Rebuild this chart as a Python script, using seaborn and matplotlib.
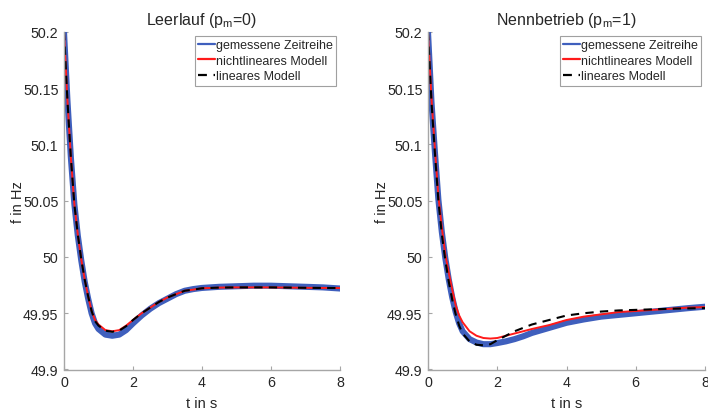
import numpy as np
import pandas as pd
import matplotlib
matplotlib.use("Agg")
import matplotlib.pyplot as plt
from matplotlib.ticker import FormatStrFormatter
import seaborn as sns

# Time axis (s) for the step response, and frequency readings (Hz)
t_left = [0, 0.1, 0.2, 0.3, 0.4, 0.5, 0.6, 0.7, 0.8, 0.9, 1.0, 1.2, 1.4, 1.6, 1.8,
          2.0, 2.25, 2.5, 2.75, 3.0, 3.25, 3.5, 3.75, 4.0, 4.5, 5.0, 5.5, 6.0, 6.5,
          7.0, 7.5, 8.0]
meas_left = [50.2, 50.139, 50.088, 50.047, 50.019, 49.997, 49.978, 49.963, 49.950,
             49.941, 49.936, 49.931, 49.930, 49.931, 49.935, 49.941, 49.948, 49.954,
             49.959, 49.963, 49.967, 49.970, 49.9715, 49.9725, 49.9735, 49.974,
             49.9745, 49.9745, 49.974, 49.9735, 49.973, 49.972]
nonlin_left = [50.2, 50.139, 50.088, 50.047, 50.020, 49.998, 49.980, 49.965, 49.952,
               49.944, 49.940, 49.935, 49.934, 49.935, 49.939, 49.944, 49.950, 49.955,
               49.960, 49.964, 49.967, 49.970, 49.971, 49.9722, 49.9728, 49.973,
               49.973, 49.973, 49.9728, 49.9726, 49.9725, 49.9724]
lin_left = [50.2, 50.139, 50.088, 50.047, 50.020, 49.998, 49.980, 49.965, 49.952,
            49.943, 49.939, 49.9345, 49.9335, 49.9345, 49.9385, 49.944, 49.950, 49.955,
            49.960, 49.964, 49.967, 49.970, 49.971, 49.9722, 49.9728, 49.973,
            49.973, 49.973, 49.9728, 49.9726, 49.9725, 49.9724]

t_right = [0, 0.1, 0.2, 0.3, 0.4, 0.5, 0.6, 0.7, 0.8, 0.9, 1.0, 1.2, 1.4, 1.6, 1.8,
           2.0, 2.25, 2.5, 2.75, 3.0, 3.5, 4.0, 4.5, 5.0, 5.5, 6.0, 6.5, 7.0, 7.5, 8.0]
meas_right = [50.2, 50.138, 50.093, 50.051, 50.022, 49.999, 49.980, 49.964, 49.951,
              49.941, 49.934, 49.927, 49.924, 49.9225, 49.9225, 49.9235, 49.925,
              49.927, 49.9295, 49.9325, 49.937, 49.9415, 49.9445, 49.947, 49.9485,
              49.950, 49.9515, 49.953, 49.9545, 49.9558]
nonlin_right = [50.2, 50.141, 50.096, 50.054, 50.026, 50.002, 49.986, 49.971, 49.957,
                49.948, 49.942, 49.934, 49.930, 49.928, 49.9275, 49.928, 49.930,
                49.932, 49.934, 49.936, 49.9395, 49.944, 49.947, 49.949, 49.951,
                49.952, 49.953, 49.954, 49.955, 49.9555]
lin_right = [50.2, 50.138, 50.092, 50.050, 50.020, 49.997, 49.978, 49.962, 49.949,
             49.939, 49.932, 49.925, 49.922, 49.9215, 49.9225, 49.926, 49.930,
             49.934, 49.937, 49.940, 49.944, 49.948, 49.950, 49.9515, 49.9525,
             49.953, 49.9535, 49.954, 49.9543, 49.9546]

titles = ["Leerlauf (p$_{m}$=0)", "Nennbetrieb (p$_{m}$=1)"]
labels = ["gemessene Zeitreihe", "nichtlineares Modell", "lineares Modell"]
y_ticks = [49.9, 49.95, 50.0, 50.05, 50.1, 50.15, 50.2]
x_ticks = [0, 2, 4, 6, 8]

sns.set_theme(style="ticks")
plt.rcParams["font.family"] = ["Liberation Sans", "DejaVu Sans"]
plt.rcParams["mathtext.default"] = "regular"

fig = plt.figure(figsize=(7.08, 4.14), dpi=100)
ax_l = fig.add_axes([64 / 708, 43.5 / 414, 276 / 708, 337.5 / 414])
ax_r = fig.add_axes([428 / 708, 43.5 / 414, 277 / 708, 337.5 / 414])

panels = [
    (ax_l, t_left, meas_left, nonlin_left, lin_left, titles[0]),
    (ax_r, t_right, meas_right, nonlin_right, lin_right, titles[1]),
]

axis_grey = "#a6a6a6"
text_col = "#262626"

for ax, t, meas, nonlin, lin, title in panels:
    df = pd.DataFrame({"t": t, "meas": meas, "nonlin": nonlin, "lin": lin})
    sns.lineplot(data=df, x="t", y="meas", ax=ax, color="#3f5fbd", lw=4.4,
                 label=labels[0], solid_capstyle="round")
    sns.lineplot(data=df, x="t", y="nonlin", ax=ax, color="#ff1a1a", lw=1.4,
                 label=labels[1])
    sns.lineplot(data=df, x="t", y="lin", ax=ax, color="black", lw=1.5,
                 label=labels[2], dashes=False)
    ax.lines[-1].set_dashes((4, 3))

    ax.set_xlim(0, 8)
    ax.set_ylim(49.9, 50.2)
    ax.set_xticks(x_ticks)
    ax.set_yticks(y_ticks)
    ax.yaxis.set_major_formatter(FormatStrFormatter("%g"))
    ax.set_title(title, fontsize=11.5, color=text_col, pad=6)
    ax.set_xlabel("t in s", fontsize=10.5, color=text_col, labelpad=5)
    ax.set_ylabel("f in Hz", fontsize=10.5, color=text_col)
    ax.yaxis.set_label_coords(-0.14, 0.5)

    sns.despine(ax=ax)
    for side in ("left", "bottom"):
        ax.spines[side].set_color(axis_grey)
        ax.spines[side].set_linewidth(1.0)
    ax.tick_params(direction="in", length=3, width=0.8, colors=axis_grey,
                   labelcolor=text_col, labelsize=10.3, pad=4)

    leg = ax.legend(loc="upper right", bbox_to_anchor=(1.0, 1.0), fontsize=9,
                    frameon=True, fancybox=False, edgecolor="#a0a0a0",
                    framealpha=1, handlelength=1.35, handletextpad=0.08,
                    borderpad=0.25, labelspacing=0.3, borderaxespad=0.3)
    leg.get_frame().set_linewidth(0.8)
    for h in leg.get_lines():
        h.set_linewidth(1.6)

fig.savefig("out.png", dpi=100)
